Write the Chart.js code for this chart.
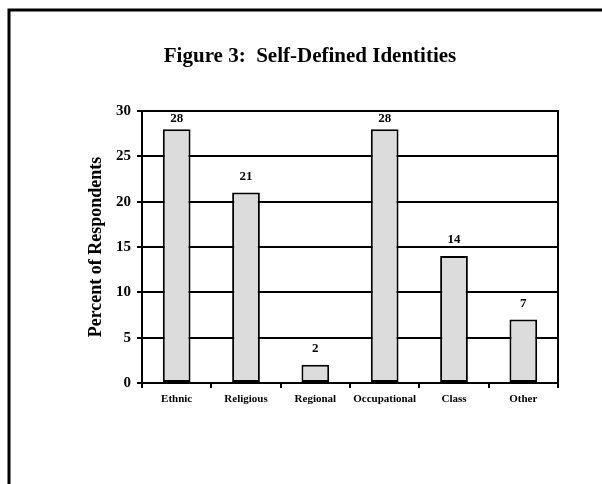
<!DOCTYPE html>
<html>
<head>
<meta charset="utf-8">
<script src="https://cdn.jsdelivr.net/npm/chart.js@4/dist/chart.umd.min.js"></script>
<style>
  html, body { margin: 0; padding: 0; background: #fff; }
  #wrap { width: 602px; height: 484px; position: relative; }
</style>
</head>
<body>
<div id="wrap"><canvas id="c" width="602" height="484"></canvas></div>
<script>
// Survey responses: self-defined identity categories
const categories = ['Ethnic', 'Religious', 'Regional', 'Occupational', 'Class', 'Other'];
const percents = [28, 21, 2, 28, 14, 7];
const yTicks = [0, 5, 10, 15, 20, 25, 30];
const chartTitle = 'Figure 3:  Self-Defined Identities';

const SERIF = '"Liberation Serif", "Times New Roman", serif';

// Page frame (left and top rules), heading, and the right edge of the plot box
const framePlugin = {
  id: 'frame',
  beforeDraw(chart) {
    const ctx = chart.ctx;
    ctx.save();
    ctx.fillStyle = '#fff';
    ctx.fillRect(0, 0, chart.width, chart.height);
    ctx.strokeStyle = '#000';
    ctx.lineWidth = 3;
    ctx.beginPath();
    ctx.moveTo(9, chart.height);
    ctx.lineTo(9, 10);
    ctx.lineTo(chart.width, 10);
    ctx.stroke();

    ctx.fillStyle = '#000';
    ctx.font = 'bold 21px ' + SERIF;
    ctx.textAlign = 'center';
    ctx.textBaseline = 'middle';
    ctx.fillText(chartTitle, 310, 57);
    ctx.restore();
  },
  afterDraw(chart) {
    const a = chart.chartArea;
    const ctx = chart.ctx;
    ctx.save();
    ctx.strokeStyle = '#000';
    ctx.lineWidth = 2;
    ctx.beginPath();
    ctx.moveTo(a.right, a.top - 1);
    ctx.lineTo(a.right, a.bottom);
    ctx.stroke();
    ctx.restore();
  }
};

// Value printed above each bar (kept inside the plot box for the tallest bars)
const valueLabels = {
  id: 'valueLabels',
  afterDatasetsDraw(chart) {
    const ctx = chart.ctx;
    const meta = chart.getDatasetMeta(0);
    const top = chart.chartArea.top;
    ctx.save();
    ctx.fillStyle = '#000';
    ctx.font = 'bold 13px ' + SERIF;
    ctx.textAlign = 'center';
    ctx.textBaseline = 'alphabetic';
    meta.data.forEach((bar, i) => {
      const y = Math.max(bar.y - 13, top + 11);
      ctx.fillText(String(percents[i]), bar.x, y);
    });
    ctx.restore();
  }
};

new Chart(document.getElementById('c'), {
  type: 'bar',
  data: {
    labels: categories,
    datasets: [{
      data: percents,
      backgroundColor: '#dcdcdc',
      borderColor: '#000',
      borderWidth: 2,
      borderSkipped: false,
      barPercentage: 0.4,
      categoryPercentage: 1.0
    }]
  },
  options: {
    responsive: false,
    animation: false,
    events: [],
    layout: { padding: { left: 0, right: 44, top: 111, bottom: 71 } },
    plugins: {
      legend: { display: false },
      tooltip: { enabled: false },
      title: { display: false }
    },
    scales: {
      x: {
        grid: {
          display: true,
          drawOnChartArea: false,
          drawTicks: true,
          tickLength: 5,
          color: '#000',
          lineWidth: 2
        },
        border: { display: true, color: '#000', width: 2 },
        ticks: {
          color: '#000',
          font: { family: SERIF, size: 11, weight: 'bold' },
          padding: 5,
          maxRotation: 0,
          autoSkip: false
        },
        afterFit(scale) { scale.height = 30; }
      },
      y: {
        min: 0,
        max: 30,
        afterBuildTicks(scale) { scale.ticks = yTicks.map(v => ({ value: v })); },
        grid: {
          color: '#000',
          lineWidth: 2,
          drawTicks: true,
          tickLength: 5
        },
        border: { display: true, color: '#000', width: 2 },
        ticks: {
          color: '#000',
          font: { family: SERIF, size: 15, weight: 'bold' },
          padding: 6
        },
        title: {
          display: true,
          text: 'Percent of Respondents',
          color: '#000',
          font: { family: SERIF, size: 18, weight: 'bold' },
          padding: { top: 86, bottom: 0 }
        },
        afterFit(scale) { scale.width = 142; }
      }
    }
  },
  plugins: [framePlugin, valueLabels]
});
</script>
</body>
</html>
